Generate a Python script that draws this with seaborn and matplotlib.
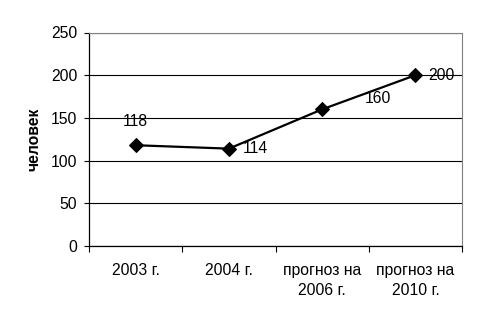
import matplotlib
matplotlib.use("Agg")
import matplotlib.pyplot as plt
import seaborn as sns
import pandas as pd

categories = ["2003 г.", "2004 г.", "прогноз на\n2006 г.", "прогноз на\n2010 г."]
values = [118, 114, 160, 200]
value_labels = ["118", "114", "160", "200"]
y_ticks = [0, 50, 100, 150, 200, 250]
y_label = "человек"

sns.set_theme(style="white")
plt.rcParams["font.family"] = ["Liberation Sans", "DejaVu Sans"]

FS = 11.3
W, H = 482, 325
fig = plt.figure(figsize=(W / 100, H / 100), dpi=100)
ax = fig.add_axes([89 / W, (H - 246) / H, (462 - 89) / W, (246 - 32.5) / H])

df = pd.DataFrame({"pos": range(len(categories)), "val": values})
sns.lineplot(data=df, x="pos", y="val", ax=ax, color="black", linewidth=1.6,
             marker="D", markersize=7, markeredgecolor="black",
             markerfacecolor="black", zorder=3)

ax.set_xlim(-0.5, len(categories) - 0.5)
ax.set_ylim(0, 250)
ax.set_yticks(y_ticks)
ax.set_yticklabels([str(t) for t in y_ticks], fontsize=FS, color="black")
ax.set_xticks(range(len(categories)))
ax.set_xticklabels(categories, fontsize=FS, color="black", linespacing=1.45)
ax.set_xticks([i - 0.5 for i in range(len(categories) + 1)], minor=True)
ax.tick_params(axis="x", which="major", length=0, pad=12)
ax.tick_params(axis="x", which="minor", length=4, width=0.8, color="black",
               direction="out", bottom=True)
ax.tick_params(axis="y", length=3.5, width=0.8, color="black", direction="out",
               pad=5, left=True)

ax.yaxis.grid(True, color="black", linewidth=0.8)
ax.xaxis.grid(False)
ax.set_axisbelow(True)

for side in ["left", "bottom"]:
    ax.spines[side].set_color("black")
    ax.spines[side].set_linewidth(0.9)
for side in ["top", "right"]:
    ax.spines[side].set_color("#808080")
    ax.spines[side].set_linewidth(0.8)

ax.set_xlabel("")
ax.set_ylabel(y_label, fontsize=FS, fontweight="bold", color="black", labelpad=7)

offsets = [((0, 17), "center"), ((10, 0), "left"), ((40, 8), "center"), ((9, 0), "left")]
for i, (v, lab) in enumerate(zip(values, value_labels)):
    (dx, dy), ha = offsets[i]
    ax.annotate(lab, (i, v), xytext=(dx, dy), textcoords="offset points",
                ha=ha, va="center", fontsize=FS, color="black", zorder=4)

fig.savefig("out.png", dpi=100, facecolor="white")
